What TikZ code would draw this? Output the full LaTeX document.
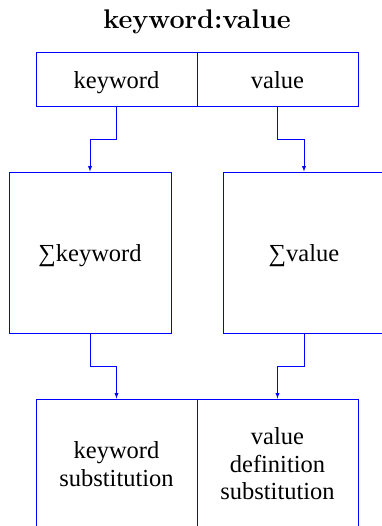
\documentclass[tikz,border=0pt]{standalone}
\usepackage{fontspec}
\newfontfamily\timesfont{Liberation Serif}
\usetikzlibrary{arrows}
\tikzstyle{field} = [rectangle, draw=blue, line width=0.9pt, inner sep=0pt,
                     text centered, align=center,
                     font=\timesfont\fontsize{24.5}{27.5}\selectfont]
\tikzstyle{oneline} = [text height=24pt, text depth=5.5pt]
\tikzstyle{arrow} = [draw=blue, line width=0.9pt, ->, >=latex]

\begin{document}
\begin{tikzpicture}[x=1pt, y=1pt]
        \useasboundingbox (0,0) rectangle (381,526);

        %Title
        \node (title) at (197,504.5) {\fontsize{27}{31}\selectfont\bfseries keyword:value};

        %Pair
        \node (kw) at (116.5,447) [field, oneline, minimum width=161pt, minimum height=54pt] {keyword};
        \node (val) at (277.5,447) [field, oneline, minimum width=161pt, minimum height=54pt] {value};

        %Sums
        \node (sumkw) at (90,273.5) [field, oneline, minimum width=162pt, minimum height=161pt] {∑keyword};
        \node (sumval) at (304,273.5) [field, oneline, minimum width=162pt, minimum height=161pt] {∑value};

        %Substitutions
        \node (kwsub) at (116.5,62) [field, minimum width=161pt, minimum height=130pt] {keyword\\substitution};
        \node (valsub) at (277.5,62) [field, minimum width=161pt, minimum height=130pt] {value\\definition\\substitution};

        %Lines to sums
        \draw [arrow] (kw.south) -- ++(0,-33) -| (sumkw.north);
        \draw [arrow] (val.south) -- ++(0,-33) -| (sumval.north);

        %Lines to substitutions
        \draw [arrow] (sumkw.south) -- ++(0,-33) -| (kwsub.north);
        \draw [arrow] (sumval.south) -- ++(0,-33) -| (valsub.north);

\end{tikzpicture}
\end{document}
